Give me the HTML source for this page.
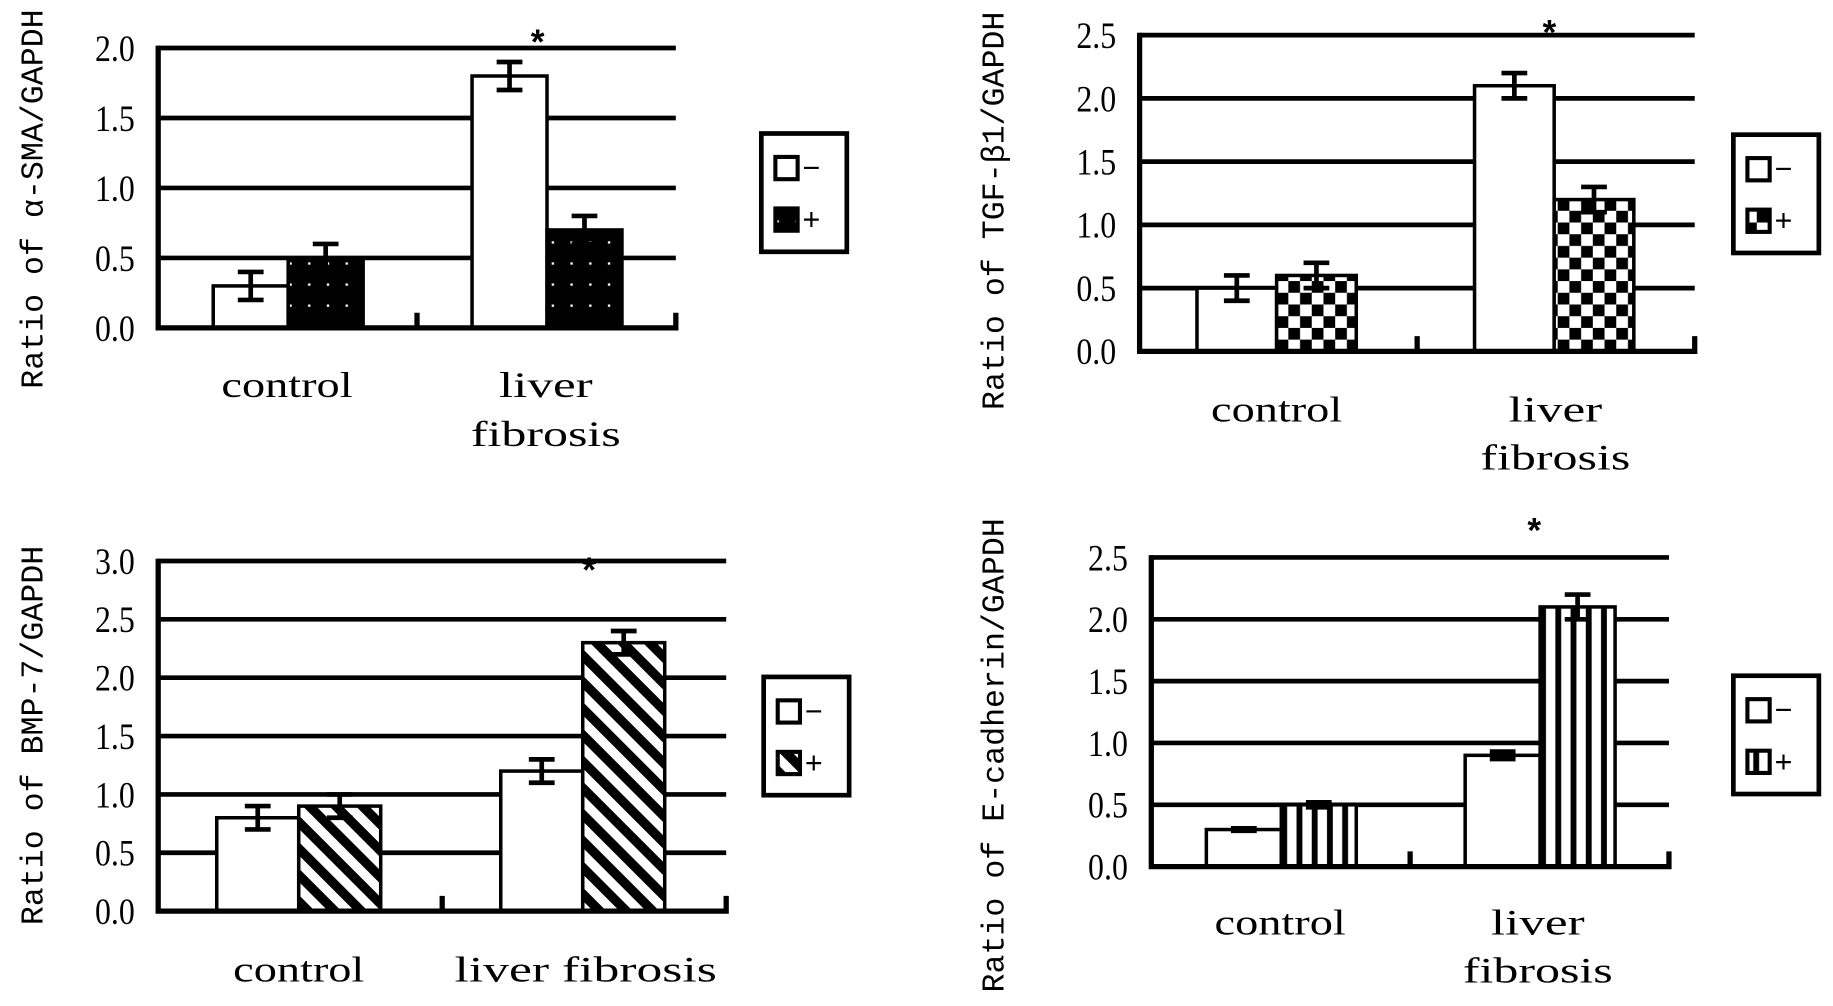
<!DOCTYPE html>
<html><head><meta charset="utf-8"><style>
html,body{margin:0;padding:0;background:#fff;}
svg{display:block;}
text{font-family:"Liberation Mono","DejaVu Sans Mono",monospace;fill:#000;}
text.sf{font-family:"Liberation Serif","Noto Serif CJK SC",serif;}
</style></head><body>
<svg id="fig" width="1833" height="1006" viewBox="0 0 1565 859" xmlns="http://www.w3.org/2000/svg">
<defs>
<pattern id="pDots" width="16" height="18" patternUnits="userSpaceOnUse"><rect width="16" height="18" fill="#000"/><rect x="7" y="8" width="2" height="2" fill="#fff"/></pattern>
<pattern id="pCheck" width="20" height="20" patternUnits="userSpaceOnUse"><rect width="20" height="20" fill="#fff"/><rect width="10" height="10" fill="#000"/><rect x="10" y="10" width="10" height="10" fill="#000"/></pattern>
<pattern id="pDiag" width="16" height="16" patternUnits="userSpaceOnUse" patternTransform="rotate(-45)"><rect width="16" height="16" fill="#fff"/><rect width="8" height="16" fill="#000"/></pattern>
<pattern id="pVert" width="13" height="10" patternUnits="userSpaceOnUse"><rect width="13" height="10" fill="#fff"/><rect x="2" width="5" height="10" fill="#000"/></pattern>
</defs>
</svg>
<script>
// Panel A: alpha-SMA
const catsA=["control","liver fibrosis"];
const minusA=[0.3,1.8], minusErrA=[0.1,0.1];
const plusA=[0.5,0.7], plusErrA=[0.1,0.1];
const ticksA=["0.0","0.5","1.0","1.5","2.0"];
// Panel B: TGF-beta1
const catsB=["control","liver fibrosis"];
const minusB=[0.5,2.1], minusErrB=[0.1,0.1];
const plusB=[0.6,1.2], plusErrB=[0.1,0.1];
const ticksB=["0.0","0.5","1.0","1.5","2.0","2.5"];
// Panel C: BMP-7
const catsC=["control","liver fibrosis"];
const minusC=[0.8,1.2], minusErrC=[0.1,0.1];
const plusC=[0.9,2.3], plusErrC=[0.1,0.1];
const ticksC=["0.0","0.5","1.0","1.5","2.0","2.5","3.0"];
// Panel D: E-cadherin
const catsD=["control","liver fibrosis"];
const minusD=[0.3,0.9], minusErrD=[0.01,0.03];
const plusD=[0.5,2.1], plusErrD=[0.02,0.1];
const ticksD=["0.0","0.5","1.0","1.5","2.0","2.5"];

const NS="http://www.w3.org/2000/svg";
const svg=document.getElementById('fig');
function mk(tag,attrs,parent,txt){const e=document.createElementNS(NS,tag);for(const k in attrs)e.setAttribute(k,attrs[k]);if(txt!==undefined)e.textContent=txt;(parent||svg).appendChild(e);return e;}

function panel(cfg){
  const g=mk('g',{});
  
  
  const ymax=parseFloat(cfg.ticks[cfg.ticks.length-1]);
  const y=v=>cfg.y0-(v/ymax)*(cfg.y0-cfg.yTop);
  const gw=(cfg.right-cfg.left)/2;
  const x=(i,s)=>cfg.left+gw*i+cfg.pad+(s?cfg.bw:0);
  cfg.ticks.forEach((t,i)=>{
    const v=parseFloat(t);
    if(v>0){const l=mk('line',{x1:cfg.left,x2:cfg.right,y1:y(v),y2:y(v),stroke:'#000','stroke-width':4},g);
      
      }
    const tl=mk('text',{class:'sf',x:cfg.left-20,y:y(v)+11,'text-anchor':'end','font-size':32,textLength:34,lengthAdjust:'spacingAndGlyphs'},g,t);
    
    
  });
  for(let i=0;i<2;i++){
    [[cfg.minus,cfg.minusErr,'#fff',0],[cfg.plus,cfg.plusErr,cfg.fill,1]].forEach(([vals,errs,fill,s])=>{
      const v=vals[i];
      const r=mk('rect',{x:x(i,s),y:y(v),width:cfg.bw,height:cfg.y0-y(v),fill:fill,stroke:'#000','stroke-width':3},g);
      
      
      const cx=x(i,s)+cfg.bw/2, e=errs[i];
      const eg=mk('g',{stroke:'#000','stroke-width':4},g);
      
      
      mk('line',{x1:cx,x2:cx,y1:y(v+e),y2:y(v-e)},eg);
      mk('line',{x1:cx-11,x2:cx+11,y1:y(v+e),y2:y(v+e)},eg);
      mk('line',{x1:cx-11,x2:cx+11,y1:y(v-e),y2:y(v-e)},eg);
    });
  }
  const ax=mk('path',{d:`M${cfg.left},${cfg.yTop-2}V${cfg.y0}H${cfg.right}V${cfg.y0-13}M${cfg.left+gw},${cfg.y0}V${cfg.y0-13}`,fill:'none',stroke:'#000','stroke-width':4.5},g);
  
  
  const st=mk('text',{x:cfg.star[0],y:cfg.star[1]+14,'text-anchor':'middle','font-size':30,'font-weight':'bold'},g,'*');
  
  
  cfg.catLabels.forEach(([t,lx,ly])=>{
    const c=mk('text',{class:'sf',x:lx,y:ly+11,'text-anchor':'middle','font-size':31,textLength:t.length*16,lengthAdjust:'spacingAndGlyphs'},g,t);
    
    
  });
  const yt=mk('text',{x:0,y:0,'text-anchor':'middle','font-size':27,transform:`translate(${cfg.title[1]+9},${cfg.title[2]}) rotate(-90)`},g,cfg.title[0]);
  
  
  const [lx,ly]=cfg.legend;
  const lg=mk('g',{},g);
  
  
  mk('rect',{x:lx,y:ly,width:73,height:101,fill:'#fff',stroke:'#000','stroke-width':4},lg);
  [['#fff','−',0],[cfg.fill,'+',1]].forEach(([f,t,k])=>{
    const e=mk('g',{},lg);
    
    
    mk('rect',{x:lx+12,y:ly+20+k*44,width:19,height:19,fill:f,stroke:'#000','stroke-width':3.5},e);
    mk('text',{x:lx+35,y:ly+38+k*44,'font-size':26},e,t);
  });
}

panel({name:'panel-alpha-sma',left:135,right:577,yTop:41,y0:280,pad:47,bw:64,ticks:ticksA,minus:minusA,minusErr:minusErrA,plus:plusA,plusErr:plusErrA,fill:'url(#pDots)',star:[459,33],catLabels:[['control',245,328],['liver',466,328],['fibrosis',466,370]],title:['Ratio of α-SMA/GAPDH',27,170],legend:[650,114]});
panel({name:'panel-tgf-beta1',left:973,right:1447,yTop:30,y0:300,pad:49,bw:68,ticks:ticksB,minus:minusB,minusErr:minusErrB,plus:plusB,plusErr:plusErrB,fill:'url(#pCheck)',star:[1323,25],catLabels:[['control',1090,349],['liver',1328,349],['fibrosis',1328,390]],title:['Ratio of TGF-β1/GAPDH',848,180],legend:[1480,115]});
panel({name:'panel-bmp-7',left:135,right:620,yTop:479,y0:778,pad:50,bw:70,ticks:ticksC,minus:minusC,minusErr:minusErrC,plus:plusC,plusErr:plusErrC,fill:'url(#pDiag)',star:[503,484],catLabels:[['control',255,827],['liver fibrosis',500,827]],title:['Ratio of BMP-7/GAPDH',27,628],legend:[652,578]});
panel({name:'panel-e-cadherin',left:983,right:1425,yTop:476,y0:740,pad:47,bw:64,ticks:ticksD,minus:minusD,minusErr:minusErrD,plus:plusD,plusErr:plusErrD,fill:'url(#pVert)',star:[1310,450],catLabels:[['control',1093,787],['liver',1313,787],['fibrosis',1313,828]],title:['Ratio of E-cadherin/GAPDH',848,645],legend:[1480,577]});
</script>
</body></html>
